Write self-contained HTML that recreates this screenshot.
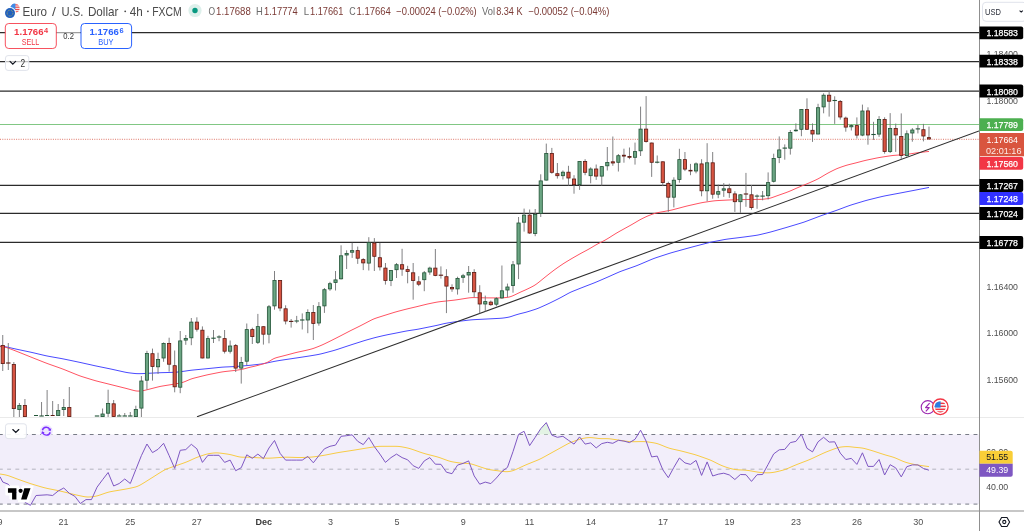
<!DOCTYPE html>
<html><head><meta charset="utf-8"><title>EURUSD 4h chart</title>
<style>
html,body{margin:0;padding:0;background:#fff;}
body{width:1024px;height:531px;overflow:hidden;position:relative;}
svg{display:block;position:absolute;left:0;top:0;}
</style></head><body>
<svg width="1024" height="531" viewBox="0 0 1024 531" font-family="Liberation Sans, Arial, sans-serif">
<defs>
<clipPath id="mainclip"><rect x="0" y="0" width="979" height="417"/></clipPath>
<clipPath id="rsiclip"><rect x="0" y="417.5" width="979" height="93"/></clipPath>
</defs>
<rect width="1024" height="531" fill="#fff"/>
<g clip-path="url(#mainclip)">
<line x1="0" y1="32.6" x2="979" y2="32.6" stroke="#2b2b2b" stroke-width="1.25"/><line x1="0" y1="61.5" x2="979" y2="61.5" stroke="#2b2b2b" stroke-width="1.25"/><line x1="0" y1="91.2" x2="979" y2="91.2" stroke="#2b2b2b" stroke-width="1.25"/><line x1="0" y1="185.4" x2="979" y2="185.4" stroke="#2b2b2b" stroke-width="1.25"/><line x1="0" y1="213.4" x2="979" y2="213.4" stroke="#2b2b2b" stroke-width="1.25"/><line x1="0" y1="242.4" x2="979" y2="242.4" stroke="#2b2b2b" stroke-width="1.25"/>
<line x1="0" y1="124.5" x2="979" y2="124.5" stroke="#81C784" stroke-width="1.1"/>
<line x1="0" y1="139.3" x2="979" y2="139.3" stroke="#D75442" stroke-width="1" stroke-dasharray="1 1.3" opacity="0.8"/>
<polyline points="0,346.3 2,346.43 4,346.6 6,346.89 8,347.29 10,347.73 12,348.18 14,348.63 16,349.07 18,349.5 20,349.93 22,350.35 24,350.77 26,351.19 28,351.62 30,352.04 32,352.49 34,352.95 36,353.42 38,353.9 40,354.37 42,354.84 44,355.31 46,355.76 48,356.17 50,356.54 52,356.9 54,357.25 56,357.6 58,357.96 60,358.31 62,358.68 64,359.07 66,359.48 68,359.9 70,360.31 72,360.73 74,361.15 76,361.57 78,361.99 80,362.41 82,362.85 84,363.3 86,363.75 88,364.19 90,364.64 92,365.09 94,365.54 96,365.97 98,366.39 100,366.8 102,367.21 104,367.62 106,368.03 108,368.44 110,368.85 112,369.28 114,369.72 116,370.16 118,370.61 120,371.06 122,371.5 124,371.94 126,372.35 128,372.69 130,372.96 132,373.2 134,373.42 136,373.6 138,373.67 140,373.66 142,373.6 144,373.52 146,373.42 148,373.32 150,373.21 152,373.11 154,373.01 156,372.91 158,372.81 160,372.72 162,372.65 164,372.6 166,372.55 168,372.49 170,372.44 172,372.39 174,372.32 176,372.19 178,372 180,371.76 182,371.51 184,371.25 186,370.96 188,370.67 190,370.4 192,370.15 194,369.94 196,369.74 198,369.55 200,369.36 202,369.17 204,368.98 206,368.78 208,368.58 210,368.38 212,368.18 214,367.97 216,367.77 218,367.56 220,367.36 222,367.18 224,367.05 226,366.95 228,366.86 230,366.77 232,366.68 234,366.58 236,366.47 238,366.33 240,366.17 242,366 244,365.83 246,365.67 248,365.49 250,365.3 252,365.08 254,364.85 256,364.63 258,364.4 260,364.16 262,363.89 264,363.54 266,363.15 268,362.73 270,362.31 272,361.88 274,361.46 276,361.08 278,360.74 280,360.42 282,360.12 284,359.81 286,359.51 288,359.21 290,358.91 292,358.61 294,358.31 296,358.02 298,357.72 300,357.42 302,357.11 304,356.81 306,356.51 308,356.2 310,355.89 312,355.56 314,355.22 316,354.88 318,354.53 320,354.12 322,353.65 324,353.13 326,352.6 328,352.07 330,351.53 332,351 334,350.44 336,349.84 338,349.2 340,348.53 342,347.87 344,347.2 346,346.53 348,345.87 350,345.21 352,344.56 354,343.92 356,343.28 358,342.64 360,342 362,341.36 364,340.73 366,340.13 368,339.56 370,339 372,338.44 374,337.89 376,337.36 378,336.88 380,336.41 382,335.95 384,335.49 386,335.05 388,334.64 390,334.24 392,333.85 394,333.47 396,333.07 398,332.68 400,332.27 402,331.87 404,331.47 406,331.09 408,330.74 410,330.44 412,330.14 414,329.85 416,329.54 418,329.19 420,328.81 422,328.41 424,328.01 426,327.6 428,327.2 430,326.79 432,326.38 434,325.97 436,325.56 438,325.12 440,324.64 442,324.15 444,323.68 446,323.27 448,322.92 450,322.6 452,322.28 454,321.97 456,321.68 458,321.41 460,321.17 462,320.92 464,320.68 466,320.44 468,320.2 470,319.97 472,319.8 474,319.66 476,319.56 478,319.45 480,319.35 482,319.25 484,319.15 486,319.05 488,318.94 490,318.84 492,318.74 494,318.64 496,318.53 498,318.43 500,318.32 502,318.16 504,317.93 506,317.63 508,317.29 510,316.83 512,316.21 514,315.51 516,314.86 518,314.27 520,313.73 522,313.23 524,312.74 526,312.22 528,311.64 530,311.02 532,310.38 534,309.74 536,309.08 538,308.34 540,307.5 542,306.61 544,305.71 546,304.81 548,303.89 550,302.94 552,301.96 554,300.97 556,299.98 558,298.98 560,297.95 562,296.88 564,295.77 566,294.65 568,293.55 570,292.53 572,291.62 574,290.8 576,290 578,289.2 580,288.4 582,287.61 584,286.83 586,286.06 588,285.29 590,284.52 592,283.75 594,282.97 596,282.15 598,281.3 600,280.44 602,279.58 604,278.71 606,277.84 608,276.97 610,276.08 612,275.18 614,274.29 616,273.39 618,272.51 620,271.67 622,270.91 624,270.19 626,269.48 628,268.78 630,268.07 632,267.36 634,266.66 636,265.93 638,265.15 640,264.32 642,263.47 644,262.62 646,261.77 648,260.91 650,260.06 652,259.23 654,258.44 656,257.73 658,257.07 660,256.41 662,255.76 664,255.11 666,254.46 668,253.81 670,253.18 672,252.58 674,252.02 676,251.46 678,250.91 680,250.36 682,249.8 684,249.25 686,248.7 688,248.15 690,247.6 692,247.06 694,246.53 696,245.99 698,245.47 700,244.95 702,244.43 704,243.91 706,243.39 708,242.88 710,242.39 712,241.95 714,241.55 716,241.16 718,240.78 720,240.4 722,240.02 724,239.64 726,239.3 728,239 730,238.75 732,238.5 734,238.26 736,238.02 738,237.77 740,237.53 742,237.28 744,237.02 746,236.75 748,236.48 750,236.21 752,235.94 754,235.67 756,235.37 758,235.02 760,234.59 762,234.12 764,233.64 766,233.16 768,232.67 770,232.16 772,231.62 774,231.05 776,230.47 778,229.89 780,229.32 782,228.74 784,228.16 786,227.58 788,226.99 790,226.39 792,225.79 794,225.19 796,224.58 798,223.98 800,223.38 802,222.76 804,222.11 806,221.39 808,220.65 810,219.89 812,219.13 814,218.38 816,217.62 818,216.86 820,216.12 822,215.39 824,214.69 826,214 828,213.3 830,212.61 832,211.91 834,211.22 836,210.52 838,209.8 840,209.07 842,208.32 844,207.56 846,206.81 848,206.07 850,205.36 852,204.71 854,204.1 856,203.49 858,202.89 860,202.29 862,201.69 864,201.09 866,200.51 868,199.97 870,199.46 872,198.97 874,198.47 876,197.98 878,197.48 880,196.99 882,196.52 884,196.08 886,195.68 888,195.3 890,194.93 892,194.56 894,194.18 896,193.81 898,193.43 900,193.06 902,192.68 904,192.29 906,191.9 908,191.52 910,191.13 912,190.75 914,190.36 916,189.98 918,189.59 920,189.2 922,188.81 924,188.43 926,188.04 928,187.65 929,187.46" fill="none" stroke="#4040FF" stroke-width="0.95"/>
<polyline points="0,346.5 2,346.68 4,346.93 6,347.39 8,348.05 10,348.79 12,349.54 14,350.3 16,351.08 18,351.87 20,352.67 22,353.48 24,354.28 26,355.09 28,355.89 30,356.69 32,357.49 34,358.29 36,359.08 38,359.87 40,360.67 42,361.46 44,362.25 46,363.03 48,363.77 50,364.49 52,365.2 54,365.9 56,366.61 58,367.31 60,368.02 62,368.75 64,369.52 66,370.32 68,371.13 70,371.94 72,372.75 74,373.57 76,374.38 78,375.17 80,375.92 82,376.6 84,377.23 86,377.85 88,378.46 90,379.08 92,379.69 94,380.29 96,380.86 98,381.39 100,381.9 102,382.39 104,382.89 106,383.39 108,383.89 110,384.39 112,384.89 114,385.39 116,385.88 118,386.38 120,386.88 122,387.38 124,387.88 126,388.39 128,388.91 130,389.46 132,390 134,390.53 136,390.94 138,391.1 140,391.04 142,390.83 144,390.47 146,390.01 148,389.51 150,388.99 152,388.48 154,387.96 156,387.44 158,386.94 160,386.48 162,386.1 164,385.77 166,385.45 168,385.13 170,384.81 172,384.48 174,384.13 176,383.77 178,383.41 180,383.03 182,382.58 184,381.95 186,381.14 188,380.27 190,379.42 192,378.71 194,378.13 196,377.62 198,377.12 200,376.62 202,376.12 204,375.63 206,375.15 208,374.7 210,374.29 212,373.89 214,373.49 216,373.09 218,372.69 220,372.31 222,371.95 224,371.66 226,371.41 228,371.19 230,370.97 232,370.74 234,370.52 236,370.27 238,369.99 240,369.68 242,369.32 244,368.86 246,368.32 248,367.77 250,367.26 252,366.81 254,366.37 256,365.89 258,365.36 260,364.79 262,364.22 264,363.63 266,362.94 268,362.04 270,360.88 272,359.62 274,358.56 276,357.8 278,357.23 280,356.72 282,356.22 284,355.71 286,355.19 288,354.67 290,354.14 292,353.6 294,353.06 296,352.55 298,352.09 300,351.66 302,351.23 304,350.8 306,350.35 308,349.88 310,349.39 312,348.85 314,348.2 316,347.45 318,346.66 320,345.85 322,345 324,344.1 326,343.14 328,342.16 330,341.18 332,340.18 334,339.17 336,338.16 338,337.13 340,336.11 342,335.08 344,334.04 346,333 348,331.96 350,330.93 352,329.92 354,328.94 356,327.96 358,326.97 360,325.97 362,324.95 364,323.91 366,322.86 368,321.81 370,320.77 372,319.76 374,318.86 376,318.12 378,317.46 380,316.83 382,316.19 384,315.56 386,314.94 388,314.31 390,313.69 392,313.07 394,312.45 396,311.86 398,311.3 400,310.77 402,310.25 404,309.73 406,309.22 408,308.73 410,308.26 412,307.79 414,307.32 416,306.85 418,306.37 420,305.87 422,305.37 424,304.88 426,304.39 428,303.92 430,303.5 432,303.08 434,302.68 436,302.29 438,301.95 440,301.68 442,301.45 444,301.24 446,301.02 448,300.81 450,300.6 452,300.38 454,300.16 456,299.9 458,299.61 460,299.3 462,298.98 464,298.66 466,298.34 468,298.03 470,297.76 472,297.61 474,297.58 476,297.62 478,297.67 480,297.72 482,297.77 484,297.82 486,297.87 488,297.89 490,297.9 492,297.9 494,297.9 496,297.9 498,297.9 500,297.89 502,297.84 504,297.71 506,297.52 508,297.26 510,296.82 512,296.12 514,295.24 516,294.29 518,293.31 520,292.36 522,291.45 524,290.58 526,289.68 528,288.73 530,287.75 532,286.74 534,285.65 536,284.37 538,282.88 540,281.27 542,279.65 544,278.03 546,276.42 548,274.83 550,273.26 552,271.72 554,270.2 556,268.73 558,267.32 560,265.93 562,264.57 564,263.25 566,262.01 568,260.8 570,259.6 572,258.42 574,257.26 576,256.12 578,254.98 580,253.85 582,252.76 584,251.7 586,250.63 588,249.55 590,248.41 592,247.24 594,246.04 596,244.87 598,243.76 600,242.73 602,241.72 604,240.7 606,239.6 608,238.41 610,237.16 612,235.9 614,234.64 616,233.4 618,232.22 620,231.09 622,229.99 624,228.89 626,227.78 628,226.68 630,225.57 632,224.45 634,223.28 636,222.09 638,220.9 640,219.76 642,218.71 644,217.73 646,216.78 648,215.89 650,215.08 652,214.33 654,213.64 656,213.05 658,212.59 660,212.21 662,211.85 664,211.5 666,211.14 668,210.78 670,210.39 672,209.96 674,209.46 676,208.92 678,208.39 680,207.85 682,207.32 684,206.78 686,206.26 688,205.77 690,205.31 692,204.86 694,204.41 696,203.96 698,203.51 700,203.07 702,202.66 704,202.31 706,202 708,201.71 710,201.42 712,201.14 714,200.88 716,200.68 718,200.55 720,200.44 722,200.34 724,200.24 726,200.14 728,200.04 730,199.94 732,199.87 734,199.81 736,199.76 738,199.71 740,199.66 742,199.61 744,199.56 746,199.52 748,199.49 750,199.48 752,199.46 754,199.45 756,199.44 758,199.42 760,199.39 762,199.3 764,199.12 766,198.89 768,198.61 770,198.21 772,197.61 774,196.9 776,196.17 778,195.44 780,194.74 782,194.04 784,193.34 786,192.61 788,191.85 790,191.05 792,190.2 794,189.31 796,188.42 798,187.54 800,186.68 802,185.85 804,185.04 806,184.23 808,183.4 810,182.55 812,181.67 814,180.77 816,179.86 818,178.88 820,177.78 822,176.59 824,175.39 826,174.2 828,173.07 830,172.01 832,171 834,170.01 836,169.06 838,168.21 840,167.47 842,166.76 844,166.08 846,165.43 848,164.86 850,164.35 852,163.85 854,163.36 856,162.86 858,162.34 860,161.81 862,161.28 864,160.76 866,160.28 868,159.84 870,159.42 872,159 874,158.58 876,158.17 878,157.77 880,157.42 882,157.09 884,156.78 886,156.47 888,156.16 890,155.87 892,155.6 894,155.39 896,155.23 898,155.08 900,154.94 902,154.79 904,154.63 906,154.44 908,154.18 910,153.89 912,153.58 914,153.27 916,152.97 918,152.67 920,152.4 922,152.17 924,151.97 926,151.76 928,151.56 929,151.46" fill="none" stroke="#FF4A5A" stroke-width="0.95"/>
<line x1="197" y1="416.8" x2="979" y2="130.97" stroke="#2e2e2e" stroke-width="1.05"/>
<path d="M2.74 335V371 M8.29 343V370 M13.83 362V417 M19.38 403V417 M24.93 399V417 M36.02 415V416 M41.56 402V416 M47.11 390V416 M52.66 401V416 M58.2 404V416 M63.75 399V416 M69.3 387V417 M102.58 408.5V417 M108.12 389.7V417 M113.67 400V417 M119.21 414V416 M124.76 413V416 M130.31 412V416 M135.85 405.7V417 M141.4 376V417 M146.95 350.8V389.5 M152.49 348.6V380.6 M158.04 352.7V374 M163.59 342.4V361.8 M169.13 337.7V371.6 M174.68 350.5V392.3 M180.22 331V393.2 M185.77 335V344.8 M191.32 318V345.2 M196.86 317.3V331.6 M202.41 326.4V358.4 M207.96 335.8V358.4 M213.5 330V343 M219.05 335.2V341.2 M224.6 330V353.5 M230.14 340.5V353.5 M235.69 344V372 M241.24 356.9V383.6 M246.78 323.5V365.3 M252.33 327.7V344 M257.87 313.9V344 M263.42 326.3V344.6 M268.97 305V343.3 M274.51 271V309.7 M280.06 280.1V311.2 M285.61 305.3V324.4 M291.15 319V327.6 M296.7 315.9V323.2 M302.25 313.4V329.5 M307.79 309.3V333.2 M313.34 305V340 M318.88 302.1V325.7 M324.43 288V312.9 M329.98 281.8V290.8 M335.52 271V290.5 M341.07 245.3V279.5 M346.62 250.3V269 M352.16 242.8V257.9 M357.71 246.6V263.9 M363.26 258.2V270.1 M368.8 237.2V270.5 M374.35 238.1V271 M379.9 242.8V270.5 M385.44 263V284.6 M390.99 270.1V286.1 M396.53 263V278 M402.08 248.8V275.8 M407.63 265.8V283.3 M413.17 263V299.7 M418.72 276.2V286.1 M424.27 271V291.2 M429.81 266.7V274.8 M435.36 249V276.2 M440.91 266.4V278.6 M446.45 269.2V313.1 M452 284.3V291.8 M457.54 276.7V294.6 M463.09 273.9V282.9 M468.64 266V292.7 M474.18 269.2V297.4 M479.73 285.2V313.4 M485.28 295.6V311.6 M490.82 300.6V305.8 M496.37 297.2V306.2 M501.92 265.5V298.8 M507.46 283.6V297.2 M513.01 261V292.7 M518.56 217V279.1 M524.1 208.6V231.6 M529.65 209.5V233.9 M535.19 209V236.2 M540.74 174.3V217 M546.29 143.6V180.5 M551.83 147.9V173.7 M557.38 163V178.6 M562.93 170.5V179.5 M568.47 165.8V185.6 M574.02 175.2V193.7 M579.57 161.1V189.9 M585.11 159.2V175.2 M590.66 167.3V183.3 M596.2 164.5V179.9 M601.75 166.2V185.6 M607.3 147V170.5 M612.84 136.5V165.8 M618.39 154V171.5 M623.94 148.7V162.7 M629.48 147.5V159.2 M635.03 142.6V164.6 M640.58 106.6V156 M646.12 96.1V142.6 M651.67 142.6V176.9 M657.22 155.5V163.4 M662.76 161.4V186.1 M668.31 181.7V211.8 M673.85 177.3V207.4 M679.4 148.8V182.7 M684.95 152V171.1 M690.49 163.9V175.2 M696.04 162.4V173.3 M701.59 159.2V196.3 M707.13 143.2V201.2 M712.68 152V198.7 M718.23 184.6V198.2 M723.77 183.1V196.9 M729.32 183.7V197.8 M734.86 191.2V211.9 M740.41 194V212.9 M745.96 172.9V206.8 M751.5 185V209.7 M757.05 194.4V208.8 M762.6 191V200.3 M768.14 172.4V199.5 M773.69 153.7V182.5 M779.24 136.4V163.1 M784.78 144.4V159.7 M790.33 130V154.6 M795.88 123.4V131.7 M801.42 109.1V136.2 M806.97 98.3V129.7 M812.51 123.4V141.9 M818.06 103.8V134.4 M823.61 93.3V113.3 M829.15 91V116.6 M834.7 96.3V123.9 M840.25 100V119.6 M845.79 116.6V131.7 M851.34 124.2V130.5 M856.89 117.4V138.5 M862.43 104.6V136.2 M867.98 107.3V144.7 M873.52 121.8V139.9 M879.07 116.1V136.9 M884.62 117.3V153.7 M890.16 113.1V153 M895.71 123.6V151.9 M901.26 113.4V159 M906.8 130.4V156.7 M912.35 128.1V141.7 M917.9 125.1V133.4 M923.44 123.9V141.4 M928.99 126.6V139.4" stroke="#737375" stroke-width="0.9" fill="none"/>
<rect x="1.14" y="345.4" width="3.2" height="18.2" fill="#D75442" stroke="#5B1A13" stroke-width="0.8"/>
<rect x="6.09" y="362.45" width="4.4" height="1.1" fill="#5B1A13"/>
<rect x="12.23" y="364.4" width="3.2" height="44.2" fill="#D75442" stroke="#5B1A13" stroke-width="0.8"/>
<rect x="17.78" y="405.4" width="3.2" height="4.2" fill="#6BA583" stroke="#225437" stroke-width="0.8"/>
<rect x="23.33" y="405.4" width="3.2" height="11.2" fill="#D75442" stroke="#5B1A13" stroke-width="0.8"/>
<rect x="34.42" y="415.4" width="3.2" height="0.2" fill="#6BA583" stroke="#225437" stroke-width="0.8"/>
<rect x="39.36" y="415.45" width="4.4" height="1.1" fill="#225437"/>
<rect x="45.51" y="415.4" width="3.2" height="0.2" fill="#6BA583" stroke="#225437" stroke-width="0.8"/>
<rect x="51.06" y="415.4" width="3.2" height="0.2" fill="#D75442" stroke="#5B1A13" stroke-width="0.8"/>
<rect x="56.6" y="410.4" width="3.2" height="5.2" fill="#6BA583" stroke="#225437" stroke-width="0.8"/>
<rect x="62.15" y="407.4" width="3.2" height="2.2" fill="#6BA583" stroke="#225437" stroke-width="0.8"/>
<rect x="67.7" y="407.4" width="3.2" height="9.2" fill="#D75442" stroke="#5B1A13" stroke-width="0.8"/>
<rect x="94.83" y="415.45" width="4.4" height="1.1" fill="#225437"/>
<rect x="100.98" y="414" width="3.2" height="2.6" fill="#6BA583" stroke="#225437" stroke-width="0.8"/>
<rect x="106.52" y="403.4" width="3.2" height="9.8" fill="#6BA583" stroke="#225437" stroke-width="0.8"/>
<rect x="112.07" y="403.8" width="3.2" height="12.8" fill="#D75442" stroke="#5B1A13" stroke-width="0.8"/>
<rect x="117.01" y="415.45" width="4.4" height="1.1" fill="#225437"/>
<rect x="122.56" y="415.45" width="4.4" height="1.1" fill="#225437"/>
<rect x="128.11" y="415.45" width="4.4" height="1.1" fill="#225437"/>
<rect x="134.25" y="409.4" width="3.2" height="7.2" fill="#6BA583" stroke="#225437" stroke-width="0.8"/>
<rect x="139.8" y="381" width="3.2" height="27.1" fill="#6BA583" stroke="#225437" stroke-width="0.8"/>
<rect x="145.35" y="353.4" width="3.2" height="26.8" fill="#6BA583" stroke="#225437" stroke-width="0.8"/>
<rect x="150.89" y="353.7" width="3.2" height="12.8" fill="#D75442" stroke="#5B1A13" stroke-width="0.8"/>
<rect x="156.44" y="359.4" width="3.2" height="7.4" fill="#6BA583" stroke="#225437" stroke-width="0.8"/>
<rect x="161.99" y="343.4" width="3.2" height="14.6" fill="#6BA583" stroke="#225437" stroke-width="0.8"/>
<rect x="167.53" y="343.4" width="3.2" height="20.8" fill="#D75442" stroke="#5B1A13" stroke-width="0.8"/>
<rect x="173.08" y="365.7" width="3.2" height="21.1" fill="#D75442" stroke="#5B1A13" stroke-width="0.8"/>
<rect x="178.62" y="340.9" width="3.2" height="46.3" fill="#6BA583" stroke="#225437" stroke-width="0.8"/>
<rect x="184.17" y="338.4" width="3.2" height="1.7" fill="#6BA583" stroke="#225437" stroke-width="0.8"/>
<rect x="189.72" y="322.1" width="3.2" height="15.7" fill="#6BA583" stroke="#225437" stroke-width="0.8"/>
<rect x="195.26" y="322.1" width="3.2" height="7.1" fill="#D75442" stroke="#5B1A13" stroke-width="0.8"/>
<rect x="200.81" y="330.2" width="3.2" height="27.8" fill="#D75442" stroke="#5B1A13" stroke-width="0.8"/>
<rect x="206.36" y="338.6" width="3.2" height="19.4" fill="#6BA583" stroke="#225437" stroke-width="0.8"/>
<rect x="211.3" y="337.65" width="4.4" height="1.1" fill="#225437"/>
<rect x="216.85" y="336.45" width="4.4" height="1.1" fill="#225437"/>
<rect x="223" y="338.6" width="3.2" height="12.6" fill="#D75442" stroke="#5B1A13" stroke-width="0.8"/>
<rect x="228.54" y="346" width="3.2" height="5.2" fill="#6BA583" stroke="#225437" stroke-width="0.8"/>
<rect x="234.09" y="345.6" width="3.2" height="22.5" fill="#D75442" stroke="#5B1A13" stroke-width="0.8"/>
<rect x="239.64" y="362.5" width="3.2" height="5.6" fill="#6BA583" stroke="#225437" stroke-width="0.8"/>
<rect x="245.18" y="329.6" width="3.2" height="31.6" fill="#6BA583" stroke="#225437" stroke-width="0.8"/>
<rect x="250.73" y="329.6" width="3.2" height="7" fill="#D75442" stroke="#5B1A13" stroke-width="0.8"/>
<rect x="256.27" y="326.6" width="3.2" height="15.7" fill="#6BA583" stroke="#225437" stroke-width="0.8"/>
<rect x="261.82" y="326.7" width="3.2" height="7.5" fill="#D75442" stroke="#5B1A13" stroke-width="0.8"/>
<rect x="267.37" y="306.8" width="3.2" height="27.4" fill="#6BA583" stroke="#225437" stroke-width="0.8"/>
<rect x="272.91" y="280.5" width="3.2" height="25.4" fill="#6BA583" stroke="#225437" stroke-width="0.8"/>
<rect x="278.46" y="280.5" width="3.2" height="27.5" fill="#D75442" stroke="#5B1A13" stroke-width="0.8"/>
<rect x="284.01" y="308.8" width="3.2" height="12.2" fill="#D75442" stroke="#5B1A13" stroke-width="0.8"/>
<rect x="288.95" y="320.85" width="4.4" height="1.1" fill="#5B1A13"/>
<rect x="294.5" y="320.45" width="4.4" height="1.1" fill="#225437"/>
<rect x="300.05" y="319.45" width="4.4" height="1.1" fill="#225437"/>
<rect x="306.19" y="312.4" width="3.2" height="7.6" fill="#6BA583" stroke="#225437" stroke-width="0.8"/>
<rect x="311.74" y="312.5" width="3.2" height="10.9" fill="#D75442" stroke="#5B1A13" stroke-width="0.8"/>
<rect x="317.28" y="306.7" width="3.2" height="16.3" fill="#6BA583" stroke="#225437" stroke-width="0.8"/>
<rect x="322.83" y="289.7" width="3.2" height="16.2" fill="#6BA583" stroke="#225437" stroke-width="0.8"/>
<rect x="328.38" y="283.7" width="3.2" height="5.2" fill="#6BA583" stroke="#225437" stroke-width="0.8"/>
<rect x="333.92" y="279.9" width="3.2" height="2.6" fill="#6BA583" stroke="#225437" stroke-width="0.8"/>
<rect x="339.47" y="255.8" width="3.2" height="23" fill="#6BA583" stroke="#225437" stroke-width="0.8"/>
<rect x="345.02" y="253.4" width="3.2" height="1.6" fill="#6BA583" stroke="#225437" stroke-width="0.8"/>
<rect x="350.56" y="250.6" width="3.2" height="1.6" fill="#6BA583" stroke="#225437" stroke-width="0.8"/>
<rect x="356.11" y="250.6" width="3.2" height="7.6" fill="#D75442" stroke="#5B1A13" stroke-width="0.8"/>
<rect x="361.66" y="259.6" width="3.2" height="3.3" fill="#D75442" stroke="#5B1A13" stroke-width="0.8"/>
<rect x="367.2" y="242.6" width="3.2" height="20.5" fill="#6BA583" stroke="#225437" stroke-width="0.8"/>
<rect x="372.75" y="243" width="3.2" height="13.3" fill="#D75442" stroke="#5B1A13" stroke-width="0.8"/>
<rect x="378.3" y="257.7" width="3.2" height="9.2" fill="#D75442" stroke="#5B1A13" stroke-width="0.8"/>
<rect x="383.84" y="268.1" width="3.2" height="12.3" fill="#D75442" stroke="#5B1A13" stroke-width="0.8"/>
<rect x="389.39" y="270.5" width="3.2" height="9.9" fill="#6BA583" stroke="#225437" stroke-width="0.8"/>
<rect x="394.93" y="264.7" width="3.2" height="5" fill="#6BA583" stroke="#225437" stroke-width="0.8"/>
<rect x="400.48" y="264.7" width="3.2" height="4.4" fill="#D75442" stroke="#5B1A13" stroke-width="0.8"/>
<rect x="406.03" y="269.6" width="3.2" height="1.8" fill="#D75442" stroke="#5B1A13" stroke-width="0.8"/>
<rect x="411.57" y="272.8" width="3.2" height="7.6" fill="#D75442" stroke="#5B1A13" stroke-width="0.8"/>
<rect x="417.12" y="281.8" width="3.2" height="2.4" fill="#D75442" stroke="#5B1A13" stroke-width="0.8"/>
<rect x="422.67" y="272.8" width="3.2" height="6.9" fill="#6BA583" stroke="#225437" stroke-width="0.8"/>
<rect x="428.21" y="268.1" width="3.2" height="3.9" fill="#6BA583" stroke="#225437" stroke-width="0.8"/>
<rect x="433.76" y="268.1" width="3.2" height="7.3" fill="#D75442" stroke="#5B1A13" stroke-width="0.8"/>
<rect x="438.71" y="274.65" width="4.4" height="1.1" fill="#5B1A13"/>
<rect x="444.85" y="276.7" width="3.2" height="9.4" fill="#D75442" stroke="#5B1A13" stroke-width="0.8"/>
<rect x="450.4" y="287.4" width="3.2" height="1.5" fill="#D75442" stroke="#5B1A13" stroke-width="0.8"/>
<rect x="455.94" y="278.4" width="3.2" height="10.5" fill="#6BA583" stroke="#225437" stroke-width="0.8"/>
<rect x="461.49" y="275.8" width="3.2" height="1.5" fill="#6BA583" stroke="#225437" stroke-width="0.8"/>
<rect x="467.04" y="272.4" width="3.2" height="2.6" fill="#6BA583" stroke="#225437" stroke-width="0.8"/>
<rect x="472.58" y="272.4" width="3.2" height="19.4" fill="#D75442" stroke="#5B1A13" stroke-width="0.8"/>
<rect x="478.13" y="292.8" width="3.2" height="11.2" fill="#D75442" stroke="#5B1A13" stroke-width="0.8"/>
<rect x="483.68" y="301.6" width="3.2" height="2.4" fill="#6BA583" stroke="#225437" stroke-width="0.8"/>
<rect x="489.22" y="302.1" width="3.2" height="2.6" fill="#D75442" stroke="#5B1A13" stroke-width="0.8"/>
<rect x="494.77" y="298.7" width="3.2" height="5.5" fill="#6BA583" stroke="#225437" stroke-width="0.8"/>
<rect x="500.32" y="290.8" width="3.2" height="7.1" fill="#6BA583" stroke="#225437" stroke-width="0.8"/>
<rect x="505.86" y="287" width="3.2" height="3" fill="#6BA583" stroke="#225437" stroke-width="0.8"/>
<rect x="511.41" y="264.8" width="3.2" height="20.7" fill="#6BA583" stroke="#225437" stroke-width="0.8"/>
<rect x="516.96" y="223" width="3.2" height="41" fill="#6BA583" stroke="#225437" stroke-width="0.8"/>
<rect x="522.5" y="215.1" width="3.2" height="7.1" fill="#6BA583" stroke="#225437" stroke-width="0.8"/>
<rect x="528.05" y="215.1" width="3.2" height="17.9" fill="#D75442" stroke="#5B1A13" stroke-width="0.8"/>
<rect x="533.59" y="214.4" width="3.2" height="19.1" fill="#6BA583" stroke="#225437" stroke-width="0.8"/>
<rect x="539.14" y="180.9" width="3.2" height="32.5" fill="#6BA583" stroke="#225437" stroke-width="0.8"/>
<rect x="544.69" y="153.4" width="3.2" height="26.7" fill="#6BA583" stroke="#225437" stroke-width="0.8"/>
<rect x="550.23" y="153.4" width="3.2" height="18.9" fill="#D75442" stroke="#5B1A13" stroke-width="0.8"/>
<rect x="555.78" y="173.7" width="3.2" height="2" fill="#D75442" stroke="#5B1A13" stroke-width="0.8"/>
<rect x="561.33" y="172.2" width="3.2" height="3.5" fill="#6BA583" stroke="#225437" stroke-width="0.8"/>
<rect x="566.87" y="172.2" width="3.2" height="5.8" fill="#D75442" stroke="#5B1A13" stroke-width="0.8"/>
<rect x="572.42" y="179" width="3.2" height="5.6" fill="#D75442" stroke="#5B1A13" stroke-width="0.8"/>
<rect x="577.97" y="161.5" width="3.2" height="23.1" fill="#6BA583" stroke="#225437" stroke-width="0.8"/>
<rect x="583.51" y="161.5" width="3.2" height="10.8" fill="#D75442" stroke="#5B1A13" stroke-width="0.8"/>
<rect x="589.06" y="169" width="3.2" height="6.7" fill="#6BA583" stroke="#225437" stroke-width="0.8"/>
<rect x="594.6" y="169" width="3.2" height="7.1" fill="#D75442" stroke="#5B1A13" stroke-width="0.8"/>
<rect x="600.15" y="166.6" width="3.2" height="9.5" fill="#6BA583" stroke="#225437" stroke-width="0.8"/>
<rect x="605.7" y="162.4" width="3.2" height="3.4" fill="#6BA583" stroke="#225437" stroke-width="0.8"/>
<rect x="611.24" y="161.8" width="3.2" height="1.2" fill="#D75442" stroke="#5B1A13" stroke-width="0.8"/>
<rect x="616.79" y="155.7" width="3.2" height="6.6" fill="#6BA583" stroke="#225437" stroke-width="0.8"/>
<rect x="622.34" y="155.2" width="3.2" height="0.9" fill="#D75442" stroke="#5B1A13" stroke-width="0.8"/>
<rect x="627.88" y="156.4" width="3.2" height="0.9" fill="#D75442" stroke="#5B1A13" stroke-width="0.8"/>
<rect x="633.43" y="151.6" width="3.2" height="5.7" fill="#6BA583" stroke="#225437" stroke-width="0.8"/>
<rect x="638.98" y="129.1" width="3.2" height="21.7" fill="#6BA583" stroke="#225437" stroke-width="0.8"/>
<rect x="644.52" y="129.1" width="3.2" height="12.4" fill="#D75442" stroke="#5B1A13" stroke-width="0.8"/>
<rect x="650.07" y="143" width="3.2" height="19.3" fill="#D75442" stroke="#5B1A13" stroke-width="0.8"/>
<rect x="655.02" y="161.65" width="4.4" height="1.1" fill="#225437"/>
<rect x="661.16" y="161.8" width="3.2" height="20.8" fill="#D75442" stroke="#5B1A13" stroke-width="0.8"/>
<rect x="666.71" y="183.4" width="3.2" height="13.8" fill="#D75442" stroke="#5B1A13" stroke-width="0.8"/>
<rect x="672.25" y="180.2" width="3.2" height="17" fill="#6BA583" stroke="#225437" stroke-width="0.8"/>
<rect x="677.8" y="159.6" width="3.2" height="19.9" fill="#6BA583" stroke="#225437" stroke-width="0.8"/>
<rect x="683.35" y="159.6" width="3.2" height="9.5" fill="#D75442" stroke="#5B1A13" stroke-width="0.8"/>
<rect x="688.89" y="170.3" width="3.2" height="0.7" fill="#D75442" stroke="#5B1A13" stroke-width="0.8"/>
<rect x="694.44" y="163.9" width="3.2" height="7.1" fill="#6BA583" stroke="#225437" stroke-width="0.8"/>
<rect x="699.99" y="163.9" width="3.2" height="26.9" fill="#D75442" stroke="#5B1A13" stroke-width="0.8"/>
<rect x="705.53" y="162.8" width="3.2" height="28" fill="#6BA583" stroke="#225437" stroke-width="0.8"/>
<rect x="711.08" y="162.8" width="3.2" height="31.4" fill="#D75442" stroke="#5B1A13" stroke-width="0.8"/>
<rect x="716.63" y="191.6" width="3.2" height="2.6" fill="#6BA583" stroke="#225437" stroke-width="0.8"/>
<rect x="722.17" y="188.8" width="3.2" height="1.4" fill="#6BA583" stroke="#225437" stroke-width="0.8"/>
<rect x="727.72" y="188.8" width="3.2" height="3.9" fill="#D75442" stroke="#5B1A13" stroke-width="0.8"/>
<rect x="733.26" y="193.9" width="3.2" height="7.8" fill="#D75442" stroke="#5B1A13" stroke-width="0.8"/>
<rect x="738.81" y="194.8" width="3.2" height="6.9" fill="#6BA583" stroke="#225437" stroke-width="0.8"/>
<rect x="743.76" y="193.45" width="4.4" height="1.1" fill="#5B1A13"/>
<rect x="749.9" y="194.8" width="3.2" height="12.8" fill="#D75442" stroke="#5B1A13" stroke-width="0.8"/>
<rect x="754.85" y="195.55" width="4.4" height="1.1" fill="#225437"/>
<rect x="760.4" y="195.55" width="4.4" height="1.1" fill="#225437"/>
<rect x="766.54" y="182.6" width="3.2" height="13.1" fill="#6BA583" stroke="#225437" stroke-width="0.8"/>
<rect x="772.09" y="158.4" width="3.2" height="22.9" fill="#6BA583" stroke="#225437" stroke-width="0.8"/>
<rect x="777.64" y="149.9" width="3.2" height="7.7" fill="#6BA583" stroke="#225437" stroke-width="0.8"/>
<rect x="782.58" y="147.55" width="4.4" height="1.1" fill="#225437"/>
<rect x="788.73" y="132.4" width="3.2" height="15.8" fill="#6BA583" stroke="#225437" stroke-width="0.8"/>
<rect x="794.28" y="130.1" width="3.2" height="0.7" fill="#6BA583" stroke="#225437" stroke-width="0.8"/>
<rect x="799.82" y="109.5" width="3.2" height="19.8" fill="#6BA583" stroke="#225437" stroke-width="0.8"/>
<rect x="805.37" y="109.5" width="3.2" height="19.8" fill="#D75442" stroke="#5B1A13" stroke-width="0.8"/>
<rect x="810.91" y="130.3" width="3.2" height="3.7" fill="#D75442" stroke="#5B1A13" stroke-width="0.8"/>
<rect x="816.46" y="107.7" width="3.2" height="26.3" fill="#6BA583" stroke="#225437" stroke-width="0.8"/>
<rect x="822.01" y="95.2" width="3.2" height="11.7" fill="#6BA583" stroke="#225437" stroke-width="0.8"/>
<rect x="827.55" y="95.2" width="3.2" height="6" fill="#D75442" stroke="#5B1A13" stroke-width="0.8"/>
<rect x="832.5" y="99.95" width="4.4" height="1.1" fill="#225437"/>
<rect x="838.65" y="101.5" width="3.2" height="15.5" fill="#D75442" stroke="#5B1A13" stroke-width="0.8"/>
<rect x="844.19" y="118.1" width="3.2" height="9" fill="#D75442" stroke="#5B1A13" stroke-width="0.8"/>
<rect x="849.74" y="125.6" width="3.2" height="1.2" fill="#6BA583" stroke="#225437" stroke-width="0.8"/>
<rect x="855.29" y="125.6" width="3.2" height="9.5" fill="#D75442" stroke="#5B1A13" stroke-width="0.8"/>
<rect x="860.83" y="111" width="3.2" height="24.1" fill="#6BA583" stroke="#225437" stroke-width="0.8"/>
<rect x="866.38" y="110.9" width="3.2" height="24.1" fill="#D75442" stroke="#5B1A13" stroke-width="0.8"/>
<rect x="871.32" y="133.95" width="4.4" height="1.1" fill="#225437"/>
<rect x="877.47" y="119.5" width="3.2" height="14.6" fill="#6BA583" stroke="#225437" stroke-width="0.8"/>
<rect x="883.02" y="119.5" width="3.2" height="32" fill="#D75442" stroke="#5B1A13" stroke-width="0.8"/>
<rect x="888.56" y="128.5" width="3.2" height="23" fill="#6BA583" stroke="#225437" stroke-width="0.8"/>
<rect x="894.11" y="128.5" width="3.2" height="6.5" fill="#D75442" stroke="#5B1A13" stroke-width="0.8"/>
<rect x="899.66" y="136.4" width="3.2" height="19.2" fill="#D75442" stroke="#5B1A13" stroke-width="0.8"/>
<rect x="905.2" y="133.8" width="3.2" height="21.8" fill="#6BA583" stroke="#225437" stroke-width="0.8"/>
<rect x="910.75" y="130" width="3.2" height="3" fill="#6BA583" stroke="#225437" stroke-width="0.8"/>
<rect x="915.7" y="128.35" width="4.4" height="1.1" fill="#225437"/>
<rect x="921.84" y="129.7" width="3.2" height="6.3" fill="#D75442" stroke="#5B1A13" stroke-width="0.8"/>
<rect x="927.39" y="137.6" width="3.2" height="1.4" fill="#D75442" stroke="#5B1A13" stroke-width="0.8"/>
</g>
<!-- events icons -->
<g>
<circle cx="927.8" cy="407.2" r="6.6" fill="#fff" stroke="#9C27B0" stroke-width="1.1"/>
<path d="M929.6 403.2L925.6 407.6H929.2L925.8 411.4" fill="none" stroke="#9C27B0" stroke-width="1.2" stroke-linejoin="round"/>
<circle cx="940.3" cy="406.8" r="7.8" fill="#fff" stroke="#F23645" stroke-width="1.3"/>
<clipPath id="usflag"><circle cx="940.3" cy="406.8" r="5.6"/></clipPath>
<g clip-path="url(#usflag)">
<rect x="934" y="400" width="13" height="14" fill="#f3f3f3"/>
<rect x="934" y="402.6" width="13" height="1.4" fill="#F23645"/>
<rect x="934" y="405.6" width="13" height="1.4" fill="#F23645"/>
<rect x="934" y="408.6" width="13" height="1.4" fill="#F23645"/>
<rect x="934" y="411.3" width="13" height="1.8" fill="#F23645"/>
<rect x="934" y="400" width="6.6" height="7.6" fill="#2F7DE1"/>
</g>
</g>
<!-- pane separators / axes -->
<line x1="0" y1="417.5" x2="1024" y2="417.5" stroke="#EAEAEA" stroke-width="1"/>
<line x1="0" y1="511" x2="1024" y2="511" stroke="#8f8f8f" stroke-width="1"/>
<line x1="979.5" y1="0" x2="979.5" y2="531" stroke="#8f8f8f" stroke-width="1"/>
<!-- RSI pane -->
<g clip-path="url(#rsiclip)">
<rect x="0" y="434.5" width="979" height="69.6" fill="#F2EEFA"/>
<line x1="0" y1="434.5" x2="979" y2="434.5" stroke="#787B86" stroke-width="1" stroke-dasharray="3.9 4.36" stroke-dashoffset="1.14"/>
<line x1="0" y1="469.2" x2="979" y2="469.2" stroke="#787B86" stroke-opacity="0.5" stroke-width="1" stroke-dasharray="3.9 4.36" stroke-dashoffset="1.14"/>
<line x1="0" y1="504.1" x2="979" y2="504.1" stroke="#787B86" stroke-width="1" stroke-dasharray="3.9 4.36" stroke-dashoffset="1.14"/>
<path d="M536 434.5L541 428.7L546 422.6L551.5 434.5Z" fill="#E3F3E4"/>
<polyline points="0,474 2,474.32 4,474.66 6,475.06 8,475.58 10,476.25 12,477 14,477.77 16,478.53 18,479.25 20,479.97 22,480.67 24,481.38 26,482.08 28,482.78 30,483.45 32,484.08 34,484.7 36,485.3 38,485.9 40,486.5 42,487.09 44,487.64 46,488.14 48,488.58 50,488.99 52,489.38 54,489.78 56,490.17 58,490.58 60,491.01 62,491.47 64,491.96 66,492.46 68,492.96 70,493.47 72,493.97 74,494.45 76,494.92 78,495.35 80,495.78 82,496.19 84,496.58 86,496.88 88,497.01 90,496.95 92,496.77 94,496.51 96,496.14 98,495.63 100,494.99 102,494.29 104,493.58 106,492.9 108,492.3 110,491.81 112,491.41 114,491.06 116,490.72 118,490.38 120,490.05 122,489.71 124,489.37 126,489.02 128,488.65 130,488.25 132,487.82 134,487.36 136,486.83 138,486.1 140,485.14 142,483.98 144,482.75 146,481.5 148,480.25 150,478.99 152,477.73 154,476.47 156,475.2 158,473.93 160,472.67 162,471.44 164,470.29 166,469.31 168,468.5 170,467.77 172,467.07 174,466.38 176,465.69 178,464.99 180,464.3 182,463.61 184,462.91 186,462.17 188,461.37 190,460.48 192,459.54 194,458.61 196,457.76 198,457 200,456.3 202,455.61 204,454.95 206,454.34 208,453.85 210,453.48 212,453.19 214,452.98 216,452.87 218,452.92 220,453.1 222,453.34 224,453.61 226,453.88 228,454.18 230,454.55 232,455.01 234,455.55 236,456.1 238,456.62 240,457.01 242,457.2 244,457.24 246,457.21 248,457.21 250,457.27 252,457.39 254,457.52 256,457.64 258,457.75 260,457.86 262,457.96 264,458.06 266,458.14 268,458.18 270,458.14 272,458.04 274,457.9 276,457.76 278,457.61 280,457.47 282,457.33 284,457.23 286,457.19 288,457.21 290,457.27 292,457.33 294,457.4 296,457.46 298,457.51 300,457.53 302,457.5 304,457.43 306,457.36 308,457.27 310,457.17 312,457.02 314,456.81 316,456.54 318,456.24 320,455.94 322,455.63 324,455.3 326,454.94 328,454.56 330,454.17 332,453.77 334,453.38 336,452.99 338,452.63 340,452.29 342,451.98 344,451.67 346,451.37 348,451.06 350,450.76 352,450.44 354,450.13 356,449.8 358,449.47 360,449.13 362,448.8 364,448.47 366,448.14 368,447.82 370,447.5 372,447.2 374,446.91 376,446.64 378,446.45 380,446.34 382,446.31 384,446.3 386,446.3 388,446.3 390,446.3 392,446.3 394,446.3 396,446.32 398,446.4 400,446.59 402,446.89 404,447.27 406,447.67 408,448.12 410,448.64 412,449.27 414,449.96 416,450.67 418,451.39 420,452.1 422,452.78 424,453.4 426,453.97 428,454.49 430,455 432,455.5 434,456.02 436,456.55 438,457.12 440,457.78 442,458.48 444,459.22 446,459.96 448,460.66 450,461.27 452,461.75 454,462.12 456,462.44 458,462.73 460,463.01 462,463.22 464,463.34 466,463.4 468,463.49 470,463.73 472,464.17 474,464.77 476,465.43 478,466.11 480,466.79 482,467.47 484,468.13 486,468.76 488,469.3 490,469.7 492,470.01 494,470.28 496,470.54 498,470.8 500,471.07 502,471.33 504,471.56 506,471.69 508,471.64 510,471.37 512,470.92 514,470.26 516,469.44 518,468.52 520,467.58 522,466.63 524,465.72 526,464.84 528,464.01 530,463.2 532,462.4 534,461.6 536,460.79 538,459.96 540,459.05 542,458.05 544,456.98 546,455.88 548,454.77 550,453.67 552,452.56 554,451.45 556,450.35 558,449.24 560,448.13 562,447.03 564,445.92 566,444.82 568,443.76 570,442.8 572,441.96 574,441.21 576,440.5 578,439.81 580,439.16 582,438.61 584,438.19 586,437.87 588,437.66 590,437.57 592,437.67 594,437.88 596,438.15 598,438.41 600,438.59 602,438.66 604,438.65 606,438.63 608,438.69 610,438.85 612,439.11 614,439.4 616,439.7 618,440 620,440.3 622,440.6 624,440.9 626,441.19 628,441.45 630,441.63 632,441.71 634,441.71 636,441.68 638,441.64 640,441.6 642,441.58 644,441.61 646,441.74 648,441.97 650,442.25 652,442.55 654,442.88 656,443.3 658,443.86 660,444.58 662,445.39 664,446.21 666,447.02 668,447.77 670,448.41 672,448.92 674,449.38 676,449.82 678,450.26 680,450.71 682,451.19 684,451.71 686,452.23 688,452.77 690,453.3 692,453.84 694,454.39 696,454.99 698,455.64 700,456.33 702,457.04 704,457.76 706,458.47 708,459.2 710,459.98 712,460.84 714,461.8 716,462.83 718,463.85 720,464.81 722,465.67 724,466.44 726,467.15 728,467.8 730,468.38 732,468.9 734,469.32 736,469.62 738,469.8 740,469.91 742,469.99 744,470.09 746,470.24 748,470.46 750,470.77 752,471.12 754,471.48 756,471.84 758,472.15 760,472.4 762,472.58 764,472.72 766,472.82 768,472.84 770,472.75 772,472.55 774,472.26 776,471.87 778,471.41 780,470.92 782,470.41 784,469.83 786,469.14 788,468.32 790,467.45 792,466.56 794,465.69 796,464.86 798,464.07 800,463.3 802,462.54 804,461.78 806,461.02 808,460.23 810,459.41 812,458.53 814,457.6 816,456.66 818,455.71 820,454.77 822,453.83 824,452.93 826,452.07 828,451.28 830,450.51 832,449.75 834,449 836,448.27 838,447.65 840,447.19 842,446.91 844,446.73 846,446.62 848,446.62 850,446.75 852,446.97 854,447.22 856,447.42 858,447.59 860,447.77 862,448.02 864,448.4 866,448.9 868,449.46 870,450.04 872,450.64 874,451.26 876,451.91 878,452.57 880,453.23 882,453.89 884,454.53 886,455.13 888,455.69 890,456.24 892,456.82 894,457.48 896,458.26 898,459.12 900,460.02 902,460.9 904,461.7 906,462.39 908,462.96 910,463.47 912,463.95 914,464.39 916,464.78 918,465.1 920,465.38 922,465.66 924,465.93 926,466.21 928,466.48 929,466.62" fill="none" stroke="#F7CB45" stroke-width="1"/>
<polyline points="0,476.7 2.74,482 8.29,484.25 24.93,502.3 30.47,505.3 36.02,495.5 47.11,494.8 52.66,495.5 58.2,491 63.75,488 69.3,493.3 74.84,496.3 80.39,503.5 85.94,499.6 91.48,499.6 97.03,487.2 102.58,479.7 108.12,472.5 113.67,486 119.21,483.5 124.76,479 130.31,483.5 135.85,469.5 141.4,455.6 146.95,444 152.49,452.6 158.04,449.3 163.59,443.3 169.13,455.6 174.68,468.4 180.22,450.3 185.77,449.6 191.32,444.3 196.86,448.8 202.41,462.4 207.96,455.3 213.5,455.3 219.05,455.3 224.6,462.4 230.14,460.1 235.69,470.7 241.24,467.7 246.78,454.8 252.33,458.3 257.87,454.1 263.42,458.6 268.97,448 274.51,440.5 280.06,453.3 285.61,460.1 291.15,460.1 296.7,460.1 302.25,460.1 307.79,456.4 313.34,462.8 318.88,455.6 324.43,448.8 329.98,446.3 335.52,445.1 341.07,436.3 346.62,435.7 352.16,434.8 357.71,441.3 363.26,444.6 368.8,437.55 374.35,446.6 379.9,454.1 385.44,462.4 390.99,457.6 396.53,454.1 402.08,457.6 407.63,459.8 413.17,465.7 418.72,468.4 424.27,460.9 429.81,457.6 435.36,464.2 440.91,464.3 446.45,472.2 452,473.7 457.54,465.1 463.09,463.4 468.64,460.9 474.18,475.9 479.73,484.2 485.28,482.1 490.82,483.6 496.37,478 501.92,471.5 507.46,467.4 513.01,451.6 518.56,434.3 524.1,431.3 529.65,445.6 535.19,437.3 540.74,428.7 546.29,422.6 551.83,435.1 557.38,437.3 562.93,436.3 568.47,440.3 574.02,444.1 579.57,436.9 585.11,444.1 590.66,442.9 596.2,447.9 601.75,443.6 607.3,442.3 612.84,443.3 618.39,440.3 623.94,441.1 629.48,442.6 635.03,439.3 640.58,430.2 646.12,441.1 651.67,456.9 657.22,456.1 662.76,469.7 668.31,477.7 673.85,467.4 679.4,458 684.95,462.9 690.49,464.4 696.04,460.4 701.59,475.4 707.13,461.9 712.68,476 718.23,474.2 723.77,473.2 729.32,474.95 734.86,479.5 740.41,474.5 745.96,474.7 751.5,481.4 757.05,474.7 762.6,474.5 768.14,464.4 773.69,453.9 779.24,449.8 784.78,449.4 790.33,442.6 795.88,441.4 801.42,434.3 806.97,448.3 812.51,451.9 818.06,441.8 823.61,437.3 829.15,442.1 834.7,441.8 840.25,453.1 845.79,459.5 851.34,458.4 856.89,464.4 862.43,452.8 867.98,466.4 873.52,466.4 879.07,459.5 884.62,475 890.16,464.7 895.71,467.9 901.26,476.9 906.8,466.7 912.35,464.9 917.9,464.9 923.44,468.5 928.99,470.2" fill="none" stroke="#7E57C2" stroke-width="1" stroke-linejoin="round"/>
</g>
<!-- TV logo -->
<g>
<path d="M6.5 486.8H18V498.2H10.5V494.2H6.5Z M19.5 490.8A3.4 3.4 0 1 0 19.5 490.9Z M22.8 486.8H32.3L28 501.1H19Z" fill="#fff" stroke="#fff" stroke-width="2.4" stroke-linejoin="round"/>
<path d="M7.95 488.3H16.4V499.6H12.1V492.7H7.95Z" fill="#000"/>
<circle cx="20.6" cy="490.8" r="2.1" fill="#000"/>
<path d="M24.3 488.3H30.5L26.6 499.6H21.1Z" fill="#000"/>
</g>
<!-- RSI legend buttons -->
<rect x="5.5" y="423.8" width="20.9" height="14.8" rx="2.5" fill="#fff" fill-opacity="0.92" stroke="#E0E3EB" stroke-width="1"/>
<path d="M12.8 429.6L15.8 432.4L18.8 429.6" fill="none" stroke="#131722" stroke-width="1.3" stroke-linecap="round"/>
<circle cx="46.3" cy="431.2" r="6.4" fill="#EDE6FE"/>
<path d="M42.4 430.2A4 4 0 0 1 49.9 429.6" fill="none" stroke="#7B2FFF" stroke-width="1.4"/>
<path d="M50.2 432.2A4 4 0 0 1 42.7 432.8" fill="none" stroke="#7B2FFF" stroke-width="1.4"/>
<path d="M51.3 428.2L50.6 431.2L47.9 430Z" fill="#7B2FFF"/>
<path d="M41.3 434.2L42 431.2L44.7 432.4Z" fill="#7B2FFF"/>
<!-- price axis labels -->
<text x="986.4" y="57.40" font-size="9.8" fill="#4f4f4f" textLength="31.6" lengthAdjust="spacingAndGlyphs">1.18400</text><text x="986.4" y="103.90" font-size="9.8" fill="#4f4f4f" textLength="31.6" lengthAdjust="spacingAndGlyphs">1.18000</text><text x="986.4" y="289.80" font-size="9.8" fill="#4f4f4f" textLength="31.6" lengthAdjust="spacingAndGlyphs">1.16400</text><text x="986.4" y="336.30" font-size="9.8" fill="#4f4f4f" textLength="31.6" lengthAdjust="spacingAndGlyphs">1.16000</text><text x="986.4" y="382.80" font-size="9.8" fill="#4f4f4f" textLength="31.6" lengthAdjust="spacingAndGlyphs">1.15600</text>
<path d="M979.5 26.50H1021.2Q1023.2 26.50 1023.2 28.50V37.30Q1023.2 39.30 1021.2 39.30H979.5Z" fill="#000"/><text x="986.4" y="36.40" font-size="9.8" fill="#fff" stroke="#fff" stroke-width="0.25" textLength="31.6" lengthAdjust="spacingAndGlyphs">1.18583</text><path d="M979.5 54.80H1021.2Q1023.2 54.80 1023.2 56.80V65.60Q1023.2 67.60 1021.2 67.60H979.5Z" fill="#000"/><text x="986.4" y="64.70" font-size="9.8" fill="#fff" stroke="#fff" stroke-width="0.25" textLength="31.6" lengthAdjust="spacingAndGlyphs">1.18338</text><path d="M979.5 84.60H1021.2Q1023.2 84.60 1023.2 86.60V95.40Q1023.2 97.40 1021.2 97.40H979.5Z" fill="#000"/><text x="986.4" y="94.50" font-size="9.8" fill="#fff" stroke="#fff" stroke-width="0.25" textLength="31.6" lengthAdjust="spacingAndGlyphs">1.18080</text><path d="M979.5 179.10H1021.2Q1023.2 179.10 1023.2 181.10V189.90Q1023.2 191.90 1021.2 191.90H979.5Z" fill="#000"/><text x="986.4" y="189.00" font-size="9.8" fill="#fff" stroke="#fff" stroke-width="0.25" textLength="31.6" lengthAdjust="spacingAndGlyphs">1.17267</text><path d="M979.5 207.10H1021.2Q1023.2 207.10 1023.2 209.10V217.90Q1023.2 219.90 1021.2 219.90H979.5Z" fill="#000"/><text x="986.4" y="217.00" font-size="9.8" fill="#fff" stroke="#fff" stroke-width="0.25" textLength="31.6" lengthAdjust="spacingAndGlyphs">1.17024</text><path d="M979.5 236.10H1021.2Q1023.2 236.10 1023.2 238.10V246.90Q1023.2 248.90 1021.2 248.90H979.5Z" fill="#000"/><text x="986.4" y="246.00" font-size="9.8" fill="#fff" stroke="#fff" stroke-width="0.25" textLength="31.6" lengthAdjust="spacingAndGlyphs">1.16778</text><path d="M979.5 118.30H1021.2Q1023.2 118.30 1023.2 120.30V129.10Q1023.2 131.10 1021.2 131.10H979.5Z" fill="#4CAF50"/><text x="986.4" y="128.20" font-size="9.8" fill="#fff" stroke="#fff" stroke-width="0.25" textLength="31.6" lengthAdjust="spacingAndGlyphs">1.17789</text><path d="M979.5 157.00H1021.2Q1023.2 157.00 1023.2 159.00V167.80Q1023.2 169.80 1021.2 169.80H979.5Z" fill="#F23645"/><text x="986.4" y="166.90" font-size="9.8" fill="#fff" stroke="#fff" stroke-width="0.25" textLength="31.6" lengthAdjust="spacingAndGlyphs">1.17560</text><path d="M979.5 192.10H1021.2Q1023.2 192.10 1023.2 194.10V202.90Q1023.2 204.90 1021.2 204.90H979.5Z" fill="#3131FF"/><text x="986.4" y="202.00" font-size="9.8" fill="#fff" stroke="#fff" stroke-width="0.25" textLength="31.6" lengthAdjust="spacingAndGlyphs">1.17248</text><rect x="979.5" y="133" width="44.5" height="23.3" fill="#D9553F"/><text x="986.4" y="143" font-size="9.8" fill="#fff" textLength="31.6" lengthAdjust="spacingAndGlyphs">1.17664</text><text x="986" y="153.8" font-size="9.8" fill="#fce9e6" textLength="35.5" lengthAdjust="spacingAndGlyphs">02:01:16</text>
<text x="986.2" y="454.8" font-size="8.9" fill="#4f4f4f" textLength="22" lengthAdjust="spacingAndGlyphs">60.00</text><text x="986.2" y="490.4" font-size="8.9" fill="#4f4f4f" textLength="22" lengthAdjust="spacingAndGlyphs">40.00</text><path d="M979.5 450.7H1010.7Q1012.7 450.7 1012.7 452.7V463.7H979.5Z" fill="#F9CE37"/><text x="986.2" y="460.4" font-size="8.9" fill="#131722" textLength="22" lengthAdjust="spacingAndGlyphs">51.55</text><path d="M979.5 463.7H1012.7V474.7Q1012.7 476.7 1010.7 476.7H979.5Z" fill="#7E57C2"/><text x="986.2" y="473.4" font-size="8.9" fill="#fff" textLength="22" lengthAdjust="spacingAndGlyphs">49.39</text>
<!-- USD box -->
<rect x="982.5" y="2.3" width="44" height="19" rx="3.5" fill="#fff" stroke="#E0E3EB" stroke-width="1"/>
<text x="985" y="15" font-size="9.6" fill="#2a2e39" textLength="15.9" lengthAdjust="spacingAndGlyphs">USD</text>
<path d="M1019.6 10.6L1021.2 12.1L1022.8 10.6" fill="none" stroke="#131722" stroke-width="1.1"/>
<!-- time axis -->
<text x="-2.5" y="525.2" font-size="9" fill="#4f4f4f" text-anchor="middle">19</text><text x="63.6" y="525.2" font-size="9" fill="#4f4f4f" text-anchor="middle">21</text><text x="130.3" y="525.2" font-size="9" fill="#4f4f4f" text-anchor="middle">25</text><text x="196.7" y="525.2" font-size="9" fill="#4f4f4f" text-anchor="middle">27</text><text x="330.4" y="525.2" font-size="9" fill="#4f4f4f" text-anchor="middle">3</text><text x="396.9" y="525.2" font-size="9" fill="#4f4f4f" text-anchor="middle">5</text><text x="463.2" y="525.2" font-size="9" fill="#4f4f4f" text-anchor="middle">9</text><text x="529.5" y="525.2" font-size="9" fill="#4f4f4f" text-anchor="middle">11</text><text x="591" y="525.2" font-size="9" fill="#4f4f4f" text-anchor="middle">14</text><text x="662.9" y="525.2" font-size="9" fill="#4f4f4f" text-anchor="middle">17</text><text x="729.5" y="525.2" font-size="9" fill="#4f4f4f" text-anchor="middle">19</text><text x="795.9" y="525.2" font-size="9" fill="#4f4f4f" text-anchor="middle">23</text><text x="857" y="525.2" font-size="9" fill="#4f4f4f" text-anchor="middle">26</text><text x="918.3" y="525.2" font-size="9" fill="#4f4f4f" text-anchor="middle">30</text><text x="263.8" y="525.2" font-size="9" font-weight="bold" fill="#3a3a3a" text-anchor="middle">Dec</text>
<g fill="none" stroke="#131722" stroke-width="1.1">
<path d="M999 522L1001.6 517.5H1007L1009.6 522L1007 526.5H1001.6Z"/>
<circle cx="1004.3" cy="522" r="1.6"/>
</g>
<!-- header legend -->
<g>
<clipPath id="usc"><circle cx="15" cy="8.3" r="4.7"/></clipPath>
<g clip-path="url(#usc)">
<rect x="10" y="3" width="10" height="11" fill="#f4f4f4"/>
<rect x="10" y="4.3" width="10" height="1.2" fill="#F04848"/>
<rect x="10" y="6.6" width="10" height="1.2" fill="#F04848"/>
<rect x="10" y="8.9" width="10" height="1.2" fill="#F04848"/>
<rect x="10" y="11.2" width="10" height="1.2" fill="#F04848"/>
<rect x="10" y="3" width="5.4" height="6.6" fill="#3D8BE8"/>
</g>
<circle cx="10" cy="13.1" r="6" fill="#fff"/>
<circle cx="10" cy="13.1" r="5" fill="#2160BE"/>
<circle cx="10" cy="13.1" r="2.9" fill="none" stroke="#C9C24A" stroke-width="0.8" stroke-dasharray="0.7 0.9"/>
</g>
<g font-size="12.4" fill="#4a4a4a"><text x="22.4" y="15.6" textLength="24.6" lengthAdjust="spacingAndGlyphs">Euro</text><text x="52.1" y="15.6" textLength="3.9" lengthAdjust="spacingAndGlyphs">/</text><text x="61.5" y="15.6" textLength="21.8" lengthAdjust="spacingAndGlyphs">U.S.</text><text x="87.9" y="15.6" textLength="30.6" lengthAdjust="spacingAndGlyphs">Dollar</text><text x="129.8" y="15.6" textLength="13" lengthAdjust="spacingAndGlyphs">4h</text><text x="152.2" y="15.6" textLength="29.6" lengthAdjust="spacingAndGlyphs">FXCM</text><circle cx="125.2" cy="11.3" r="0.9"/><circle cx="147.9" cy="11.3" r="0.9"/></g>
<circle cx="195" cy="10.5" r="6.6" fill="#DDF0EB"/>
<circle cx="195" cy="10.5" r="2.7" fill="#089981"/>
<g font-size="10.2"><text x="208.6" y="15.1" fill="#6a6a6a" textLength="6.6" lengthAdjust="spacingAndGlyphs">O</text><text x="216.1" y="15.1" fill="#7B3A35" textLength="34.7" lengthAdjust="spacingAndGlyphs">1.17688</text><text x="255.9" y="15.1" fill="#6a6a6a" textLength="6.8" lengthAdjust="spacingAndGlyphs">H</text><text x="264" y="15.1" fill="#7B3A35" textLength="33.7" lengthAdjust="spacingAndGlyphs">1.17774</text><text x="303.7" y="15.1" fill="#6a6a6a" textLength="5.4" lengthAdjust="spacingAndGlyphs">L</text><text x="310" y="15.1" fill="#7B3A35" textLength="33.4" lengthAdjust="spacingAndGlyphs">1.17661</text><text x="349.2" y="15.1" fill="#6a6a6a" textLength="6.4" lengthAdjust="spacingAndGlyphs">C</text><text x="356.5" y="15.1" fill="#7B3A35" textLength="34.3" lengthAdjust="spacingAndGlyphs">1.17664</text><text x="396.2" y="15.1" fill="#7B3A35" textLength="80.5" lengthAdjust="spacingAndGlyphs">−0.00024 (−0.02%)</text><text x="482" y="15.1" fill="#6a6a6a" textLength="13" lengthAdjust="spacingAndGlyphs">Vol</text><text x="496.2" y="15.1" fill="#7B3A35" textLength="26.3" lengthAdjust="spacingAndGlyphs">8.34 K</text><text x="528.4" y="15.1" fill="#7B3A35" textLength="80.9" lengthAdjust="spacingAndGlyphs">−0.00052 (−0.04%)</text></g>
<!-- buy/sell -->
<rect x="5.3" y="23.5" width="51" height="25" rx="3.5" fill="#fff" stroke="#F7525F" stroke-width="1"/>
<text x="14.1" y="34.6" font-size="9.6" font-weight="bold" fill="#F23645" textLength="29.5" lengthAdjust="spacingAndGlyphs">1.1766</text>
<text x="44" y="32.6" font-size="7.4" font-weight="bold" fill="#F23645">4</text>
<text x="21.7" y="44.9" font-size="8.2" fill="#F23645" textLength="17.6" lengthAdjust="spacingAndGlyphs">SELL</text>
<rect x="57" y="30" width="23.5" height="5" fill="#fff" opacity="0.55"/><text x="63.3" y="39.4" font-size="8.2" fill="#333" textLength="10.6" lengthAdjust="spacingAndGlyphs">0.2</text>
<rect x="81" y="23.5" width="50.6" height="25" rx="3.5" fill="#fff" stroke="#2962FF" stroke-width="1"/>
<text x="89.5" y="34.6" font-size="9.6" font-weight="bold" fill="#2962FF" textLength="29.3" lengthAdjust="spacingAndGlyphs">1.1766</text>
<text x="119.6" y="32.7" font-size="7.4" font-weight="bold" fill="#2962FF">6</text>
<text x="98.2" y="44.9" font-size="8.2" fill="#2962FF" textLength="15.3" lengthAdjust="spacingAndGlyphs">BUY</text>
<!-- collapse button -->
<rect x="5.5" y="55.6" width="23.3" height="14.8" rx="2.5" fill="#fff" fill-opacity="0.7" stroke="#E0E3EB" stroke-width="1"/>
<path d="M10 61.4L12.8 64.2L15.6 61.4" fill="none" stroke="#131722" stroke-width="1.2" stroke-linecap="round"/>
<text x="20.4" y="66.7" font-size="10.6" fill="#333" textLength="4.7" lengthAdjust="spacingAndGlyphs">2</text>
</svg>
</body></html>
